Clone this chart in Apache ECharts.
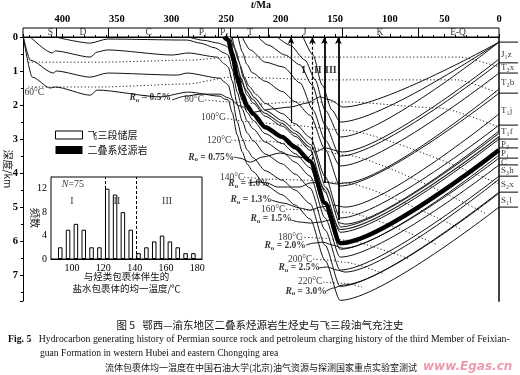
<!DOCTYPE html>
<html><head><meta charset="utf-8">
<script src="https://cdn.jsdelivr.net/npm/echarts@6/dist/echarts.min.js"></script>
<style>html,body{margin:0;padding:0;background:#fff}#c{width:520px;height:375px}</style>
</head><body><div id="c"></div>
<script>
// ================= DATA =================
// geological periods (top band), ages in Ma
const periodNames   = ['S','D','C','P₁','P₂','T','J','K','E-Q'];
const periodCenters = [411, 381, 321, 271, 251.7, 228, 178, 109, 37.5];
const periodBounds  = [405.5, 358, 284.7, 257, 246, 211, 143.7, 74];

// burial lines [age Ma, depth km]
const sourceRock = [[251.7,0],[248,0.09],[244.4,0.5],[239.8,1.18],[235.2,1.68],[230.7,2.03],[225.2,2.26],[214.2,2.65],[198.6,2.94],[186.7,3.24],[173,3.65],[159.3,4.88],[145.5,6.06],[0,3.32]];
const reservoir  = [[247.1,0],[244,0.3],[239.8,0.7],[235.2,1.2],[230.7,1.55],[225.2,1.8],[214.2,2.2],[198.6,2.5],[186.7,2.8],[173,3.2],[159.3,4.45],[145.5,5.62],[0,2.88]];
const hS1lBase = [[435.7,0],[427.5,1.18],[411,1.5],[406.4,1.47],[374.4,1.71],[368,1.56],[310.3,1.76],[284.7,1.62],[255.4,1.74],[251.7,1.82],[248,1.85],[244.4,2.22],[239.8,2.88],[235.2,3.38],[230.7,3.73],[225.2,3.96],[214.2,4.35],[198.6,4.64],[186.7,4.94],[173,5.35],[159.3,6.57],[145.5,7.74],[0,5.0]];
const hS1lTop  = [[435.7,0],[429.3,0.68],[408.2,1.06],[405.5,1.0],[374.4,1.18],[358.8,1.06],[294.7,1.12],[285.6,1.06],[255.4,1.21],[251.7,1.32],[248,1.41],[244.4,1.8],[239.8,2.48],[235.2,2.98],[230.7,3.32],[225.2,3.55],[214.2,3.93],[198.6,4.21],[186.7,4.5],[173,4.9],[159.3,6.12],[145.5,7.33],[0,4.56]];
const hS2xTop  = [[429.3,0],[409.2,0.47],[406.4,0.41],[374.4,0.59],[368,0.44],[358.8,0.38],[299.3,0.53],[284.7,0.47],[258.1,0.59],[251.7,0.79],[248,0.88],[244.4,1.29],[239.8,1.97],[235.2,2.47],[230.7,2.82],[225.2,3.05],[214.2,3.44],[198.6,3.73],[186.7,4.03],[173,4.44],[159.3,5.67],[145.5,6.85],[0,4.09]];
const hS3hTop  = [[406.4,0],[374.4,0.18],[358.8,0.06],[285.6,0.09],[273.7,0.18],[260,0.32],[251.7,0.47],[248,0.53],[244.4,0.94],[239.8,1.62],[235.2,2.12],[230.7,2.47],[225.2,2.70],[214.2,3.09],[198.6,3.38],[186.7,3.68],[173,4.09],[159.3,5.32],[145.5,6.47],[0,3.76]];
const hCTop    = [[284.7,0],[270,0.1],[257,0.18],[251.7,0.24],[248,0.3],[244.4,0.7],[239.8,1.37],[235.2,1.87],[230.7,2.22],[225.2,2.45],[214.2,2.84],[198.6,3.13],[186.7,3.43],[173,3.84],[159.3,5.07],[145.5,6.24],[0,3.56]];
const hP2Top   = [[249.9,0],[246,0.2],[242,0.6],[239.8,0.85],[235.2,1.36],[230.7,1.71],[225.2,1.94],[214.2,2.33],[198.6,2.62],[186.7,2.92],[173,3.33],[159.3,4.56],[145.5,5.74],[0,3.0]];
const hT1fTop  = [[244.4,0],[241,0.4],[237,0.85],[233,1.2],[229,1.45],[222,1.7],[214.2,1.95],[198.6,2.25],[186.7,2.55],[173,2.95],[159.3,4.1],[145.5,5.32],[0,2.59]];
const hT1jTop  = [[238.9,0],[235,0.45],[231,0.8],[226,1.05],[214.2,1.3],[198.6,1.6],[186.7,1.9],[173,2.3],[159.3,3.3],[145.5,4.38],[0,1.65]];
const hT2bTop  = [[235.2,0],[227.9,0.38],[214.2,0.74],[197.7,0.88],[182.2,1.35],[170.3,2.15],[159.3,3.03],[145.5,3.79],[0,1.06]];
const hT3xTop  = [[220.6,0],[211.4,0.24],[195.9,0.53],[182.2,0.82],[171.2,1.41],[159.3,2.59],[145.5,3.5],[0,0.76]];
const hJ1zTop  = [[203.2,0],[191.3,0.24],[177.6,0.68],[168.4,1.26],[159.3,2.15],[145.5,2.94],[0,0.15]];
const hJ2      = [[179.4,0],[170.3,0.53],[162,1.41],[152.9,2.15],[145.5,2.5],[0,0.15]];

// vitrinite reflectance (Ro) lines
const ro05  = [[299.3,1.85],[287.4,1.74],[273.7,1.68],[255.4,1.68],[248,1.79],[237.1,2.03],[225.2,2.21],[209.6,2.12],[191.3,2.06],[175.7,1.94],[163.8,1.76],[154.7,1.85],[142.8,2.06],[0,0.15]];
const ro075 = [[242.6,3.53],[237.1,3.56],[227.9,3.68],[216.9,3.53],[200.5,3.41],[184,3.53],[175.7,3.56],[168.4,3.38],[159.3,3.26],[143.7,3.38],[0,0.65]];
const ro10  = [[229.7,4.29],[221.5,4.26],[212.4,4.29],[203.2,4.41],[191.3,4.41],[182.2,4.41],[173,4.29],[161.1,4.26],[148.3,4.32],[141,4.29],[0,1.53]];
const ro13  = [[208.7,4.79],[197.7,4.88],[182.2,5.03],[173,5.09],[163.8,5.0],[151.9,4.94],[141,5.0],[0,2.26]];
const ro15  = [[190.4,5.38],[182.2,5.44],[173,5.47],[163.8,5.44],[154.7,5.38],[141,5.5],[0,2.76]];
const ro20  = [[176.7,6.12],[170.3,6.06],[161.1,6.03],[151.9,6.12],[142.8,6.21],[0,3.47]];
const ro25  = [[164.8,6.79],[157.4,6.76],[148.3,6.85],[141,6.91],[0,4.18]];
const ro30  = [[158.4,7.47],[151.9,7.38],[142.8,7.29],[0,4.59]];
const roLabelText = ['0.5%','0.75%','1.0%','1.3%','1.5%','2.0%','2.5%','3.0%'];
const roLabelPos  = [[319.5,1.79],[263.6,3.53],[229,4.32],[227,4.79],[208.7,5.35],[195.9,6.12],[183,6.79],[176.7,7.47]];

// isotherms
const t40  = [[431.1,0.74],[365.2,0.74],[282.8,0.68],[246.2,0.59],[35.7,0.59],[0,0.88]];
const t60  = [[431.1,1.47],[365.2,1.47],[284.7,1.38],[246.2,1.18],[154.7,1.26],[38.4,1.26],[0,1.65]];
const t80  = [[269.1,1.85],[246.2,1.91],[218.8,1.97],[188.6,1.91],[139.1,1.91],[54,2.09],[0,2.65]];
const t100 = [[251.7,2.38],[227.9,2.5],[191.3,2.59],[141,2.74],[0,4.32]];
const t120 = [[245.3,3.03],[214.2,3.06],[182.2,3.18],[141,3.47],[11,5.21]];
const t140 = [[233.4,4.12],[209.6,4.18],[174.8,4.21],[141,4.29],[34.8,5.65]];
const t160 = [[195,5.06],[168.4,5.09],[141,5.15],[57.7,6.09]];
const t180 = [[181.2,5.88],[163.8,5.91],[141,5.97],[81.5,6.53]];
const t200 = [[170.3,6.53],[154.7,6.56],[141,6.62],[104.3,6.97]];
const t220 = [[161.1,7.21],[141,7.24],[125.4,7.35]];
const tempLabelText = ['60°C','80°C','100°C','120°C','140°C','160°C','180°C','200°C','220°C'];
const tempLabelPos  = [[425.6,1.62],[279.2,1.85],[261.8,2.38],[256.3,3.03],[244.4,4.12],[206.9,5.06],[191.3,5.88],[182.2,6.53],[173,7.2]];

// charging arrows: [age, start depth]
const chargeArrows = [[190.5,2.53],[170.9,3.9],[159.9,4.29],[147.1,5.38]];
const chargeNames = ['I','II','III'];
const chargeNamePos = [[179,0.97],[166,0.97],[154,0.97]];

// present-day formations (right side)
const formationNames  = ['J₁z','T₃x','T₂b','T₁j','T₁f','P₂','P₁','C','S₃h','S₂x','S₁l'];
const formationDepths = [0.53,0.91,1.35,2.15,2.79,3.15,3.44,3.68,3.94,4.35,4.82];
const formationBounds = [0.15,0.76,1.06,1.65,2.59,3.0,3.26,3.56,3.76,4.09,4.56,5.0];

// inset histogram of homogenization temperatures
const binCenters = [92.5,97.5,102.5,107.5,112.5,117.5,122.5,127.5,132.5,137.5,142.5,147.5,152.5,157.5,162.5,167.5,172.5,177.5];
const binCounts  = [2,5,6,5,2,2,12,11,8,5,1,2,3,4,3,2,1,1];
const stageBounds = [121,141];
const stageNames = ['I','II','III'];
const stagePos = [[100,9.8],[128.7,9.8],[160.7,9.8]];

// ================= CHART =================
const SERIF = "'Liberation Serif','Noto Sans CJK SC',serif";
const CJK = "'Noto Sans CJK SC','Liberation Serif',sans-serif";
const chart = echarts.init(document.getElementById('c'), null, {renderer:'canvas'});

function burial(name, data, w, color){
  return {type:'line', name, xAxisIndex:0, yAxisIndex:0, data, showSymbol:false, symbol:'none',
    smooth:0.25, smoothMonotone:'x', lineStyle:{color:color||'#111', width:w||1}, z:3, silent:true};
}
function iso(data){
  return {type:'line', xAxisIndex:0, yAxisIndex:0, data, showSymbol:false, symbol:'none',
    smooth:0.2, smoothMonotone:'x', lineStyle:{color:'#222', width:1, type:[1.2,2.3]}, z:2, silent:true};
}
const roRich = {
  r:{fontFamily:SERIF, fontSize:9.5, fontWeight:'bold', fontStyle:'italic', color:'#000'},
  o:{fontFamily:SERIF, fontSize:7, fontWeight:'bold', color:'#000', padding:[5,0,0,0]},
  t:{fontFamily:SERIF, fontSize:9.5, fontWeight:'bold', color:'#000'}
};

const series = [
  burial('S1l base', hS1lBase), burial('S1l top', hS1lTop), burial('S2x top', hS2xTop),
  burial('S3h top', hS3hTop), burial('C top', hCTop), burial('P2 top', hP2Top),
  burial('T1f top', hT1fTop), burial('T1j top', hT1jTop), burial('T2b top', hT2bTop),
  burial('T3x top', hT3xTop), burial('J1z top', hJ1zTop), burial('J2', hJ2),
  burial('ro05', ro05), burial('ro075', ro075), burial('ro10', ro10), burial('ro13', ro13),
  burial('ro15', ro15), burial('ro20', ro20), burial('ro25', ro25), burial('ro30', ro30),
  iso(t40), iso(t60), iso(t80), iso(t100), iso(t120), iso(t140), iso(t160), iso(t180), iso(t200), iso(t220),
  {type:'line', name:'二叠系烃源岩', xAxisIndex:0, yAxisIndex:0, data:sourceRock, showSymbol:false, symbol:'none',
    smooth:0.25, smoothMonotone:'x', lineStyle:{color:'#000', width:4.5}, itemStyle:{color:'#000'}, z:5},
  {type:'line', name:'reservoirEdge', xAxisIndex:0, yAxisIndex:0, data:reservoir, showSymbol:false, symbol:'none',
    smooth:0.25, smoothMonotone:'x', lineStyle:{color:'#222', width:3.6}, z:4},
  {type:'line', name:'飞三段储层', xAxisIndex:0, yAxisIndex:0, data:reservoir, showSymbol:false, symbol:'none',
    smooth:0.25, smoothMonotone:'x', lineStyle:{color:'#fff', width:1.6}, itemStyle:{color:'#fff', borderColor:'#000', borderWidth:1}, z:4.5},
  // charging arrows
  {type:'line', xAxisIndex:0, yAxisIndex:0, data:[], silent:true,
    markLine:{silent:true, symbol:['none','arrow'], symbolSize:[5,7], label:{show:false},
      data:chargeArrows.map((a,i)=>[
        {coord:[a[0],a[1]], lineStyle:{color:'#000', width:(i>=2?1.8:1.2), type:(i===1?[3,2]:'solid')}},
        {coord:[a[0],0]}])}},
  // labels in main plot
  {type:'scatter', xAxisIndex:0, yAxisIndex:0, symbolSize:0, silent:true, clip:false, z:10,
    data: roLabelPos.map((p,i)=>({value:p, label:{show:true, position:'inside',
      formatter:'{r|R}{o|o}{t| = '+roLabelText[i]+'}', rich:roRich}}))},
  {type:'scatter', xAxisIndex:0, yAxisIndex:0, symbolSize:0, silent:true, clip:false, z:10,
    label:{show:true, position:'inside', fontFamily:SERIF, fontSize:9.5, color:'#000', formatter:p=>tempLabelText[p.dataIndex]},
    data: tempLabelPos},
  {type:'scatter', xAxisIndex:0, yAxisIndex:0, symbolSize:0, silent:true, clip:false, z:10,
    label:{show:true, position:'inside', fontFamily:SERIF, fontSize:10, fontWeight:'bold', color:'#000', formatter:p=>chargeNames[p.dataIndex]},
    data: chargeNamePos},
  // right side formation labels + separators
  {type:'scatter', xAxisIndex:0, yAxisIndex:0, symbolSize:0, silent:true, clip:false, z:10,
    label:{show:true, position:'right', distance:2, fontFamily:SERIF, fontSize:9, color:'#000', formatter:p=>formationNames[p.dataIndex]},
    data: formationDepths.map(d=>[0,d])},
  {type:'custom', xAxisIndex:0, yAxisIndex:0, silent:true, clip:false, z:10,
    data: formationBounds.map(d=>[0,d]),
    renderItem:(params, api)=>{const pt=api.coord([0,api.value(1)]);
      return {type:'line', shape:{x1:pt[0], y1:pt[1], x2:pt[0]+19, y2:pt[1]}, style:{stroke:'#000', lineWidth:1}};}},
  // period band
  {type:'line', xAxisIndex:1, yAxisIndex:2, data:[], silent:true,
    markLine:{silent:true, symbol:'none', label:{show:false}, lineStyle:{color:'#000', width:1, type:'solid'},
      data: periodBounds.map(v=>({xAxis:v}))}},
  {type:'scatter', xAxisIndex:1, yAxisIndex:2, symbolSize:0, silent:true, clip:false,
    label:{show:true, position:'inside', fontFamily:SERIF, fontSize:9.5, color:'#000', formatter:p=>periodNames[p.dataIndex]},
    data: periodCenters.map(c=>[c,0.5])},
  // inset histogram
  {type:'bar', xAxisIndex:2, yAxisIndex:3, barWidth:4.5, data: binCenters.map((c,i)=>[c,binCounts[i]]),
    itemStyle:{color:'#fff', borderColor:'#000', borderWidth:1}, silent:true,
    markLine:{silent:true, symbol:'none', label:{show:false}, lineStyle:{color:'#000', width:1, type:[3,2]},
      data: stageBounds.map(v=>({xAxis:v}))}},
  {type:'scatter', xAxisIndex:2, yAxisIndex:3, symbolSize:0, silent:true,
    label:{show:true, position:'inside', fontFamily:SERIF, fontSize:10, color:'#000', formatter:p=>stageNames[p.dataIndex]},
    data: stagePos},
  {type:'scatter', xAxisIndex:2, yAxisIndex:3, symbolSize:0, silent:true,
    label:{show:true, position:'inside', fontFamily:SERIF, fontSize:10, color:'#000', formatter:'{i|N}=75', rich:{i:{fontFamily:SERIF,fontSize:10,fontStyle:'italic'}}},
    data: [[100.6,12.7]]}
];

const option = {
  backgroundColor:'#fff',
  animation:false,
  textStyle:{fontFamily:SERIF},
  title:[
    {text:'图 5   鄂西—渝东地区二叠系烃源岩生烃史与飞三段油气充注史', left:'center', top:315,
      textStyle:{fontFamily:CJK, fontSize:10.5, fontWeight:'normal', color:'#111'}},
    {text:'{b|Fig. 5}   Hydrocarbon generating history of Permian source rock and petroleum charging history of the third Member of Feixian-', left:3, top:330,
      textStyle:{fontFamily:SERIF, fontSize:9.8, fontWeight:'normal', color:'#111', rich:{b:{fontFamily:SERIF,fontSize:9.8,fontWeight:'bold',color:'#111'}}}},
    {text:'guan Formation in western Hubei and eastern Chongqing area', left:35, top:344,
      textStyle:{fontFamily:SERIF, fontSize:9.6, fontWeight:'normal', color:'#111'}},
    {text:'流体包裹体均一温度在中国石油大学(北京)油气资源与探测国家重点实验室测试', left:100, top:358,
      textStyle:{fontFamily:CJK, fontSize:9, fontWeight:'normal', color:'#111'}},
    {text:'www.Egas.cn', left:418, top:356,
      textStyle:{fontFamily:"'DejaVu Sans'", fontSize:12, fontWeight:'bold', fontStyle:'italic', color:'#ef9aac'}}
  ],
  legend:{left:50, top:125, orient:'vertical', itemWidth:27, itemHeight:8, itemGap:5, selectedMode:false,
    textStyle:{fontFamily:CJK, fontSize:10, color:'#111'},
    data:[
      {name:'飞三段储层', icon:'rect', itemStyle:{color:'#fff', borderColor:'#000', borderWidth:1}},
      {name:'二叠系烃源岩', icon:'rect', itemStyle:{color:'#000'}}
    ]},
  grid:[
    {left:23, right:21, top:37, bottom:74, outerBoundsMode:'none', containLabel:false},
    {left:23, right:21, top:28, height:9, show:true, borderColor:'#000', borderWidth:1, backgroundColor:'#fff', outerBoundsMode:'none', containLabel:false},
    {left:51, top:177, width:151, height:82, show:true, borderColor:'#000', borderWidth:1, backgroundColor:'#fff', z:1, outerBoundsMode:'none', containLabel:false}
  ],
  xAxis:[
    {gridIndex:0, type:'value', min:0, max:436, inverse:true, show:false},
    {gridIndex:1, type:'value', min:0, max:436, inverse:true, position:'top', interval:50,
      axisLine:{show:true, lineStyle:{color:'#000'}},
      axisTick:{show:true, inside:false, length:3, lineStyle:{color:'#000'}},
      minorTick:{show:true, splitNumber:5, length:2, lineStyle:{color:'#000'}},
      splitLine:{show:false},
      axisLabel:{margin:3, fontFamily:SERIF, fontSize:10.5, fontWeight:'bold', color:'#000',
        formatter:v=> (Math.abs(v%50)<1e-6 ? String(v) : '')},
      name:'{i|t}/Ma', nameLocation:'middle', nameGap:18, nameMoveOverlap:false,
      nameTextStyle:{fontFamily:SERIF, fontSize:10, fontWeight:'bold', color:'#000',
        rich:{i:{fontFamily:SERIF, fontSize:10, fontStyle:'italic', fontWeight:'bold', color:'#000'}}}},
    {gridIndex:2, type:'value', min:86.6, max:183,
      axisLine:{show:true, lineStyle:{color:'#000'}},
      axisTick:{show:true, inside:true, length:3, customValues:[90,100,110,120,130,140,150,160,170,180], lineStyle:{color:'#000'}},
      axisLabel:{margin:4, fontFamily:SERIF, fontSize:10, color:'#000', customValues:[100,120,140,160,180]},
      splitLine:{show:false},
      name:'与烃类包裹体伴生的\n盐水包裹体的均一温度/℃', nameLocation:'middle', nameGap:11, nameMoveOverlap:false,
      nameTextStyle:{fontFamily:CJK, fontSize:9.5, color:'#111', lineHeight:12, verticalAlign:'top'}}
  ],
  yAxis:[
    {gridIndex:0, type:'value', min:0, max:7.76, inverse:true, interval:1,
      axisLine:{show:true, onZero:false, lineStyle:{color:'#000'}},
      axisTick:{show:true, inside:false, length:3, lineStyle:{color:'#000'}},
      minorTick:{show:true, splitNumber:2, length:2, lineStyle:{color:'#000'}},
      splitLine:{show:false},
      axisLabel:{margin:5, fontFamily:SERIF, fontSize:10.5, fontWeight:'bold', color:'#000',
        formatter:v=> (Math.abs(v-Math.round(v))<1e-6 ? String(v) : '')},
      name:'深度/km', nameLocation:'middle', nameRotate:-90, nameGap:10, nameMoveOverlap:false,
      nameTextStyle:{fontFamily:CJK, fontSize:10, color:'#111'}},
    {gridIndex:0, type:'value', min:0, max:7.76, inverse:true, position:'right',
      axisLine:{show:true, onZero:false, lineStyle:{color:'#444', width:2}},
      axisTick:{show:false}, axisLabel:{show:false}, splitLine:{show:false}},
    {gridIndex:1, type:'value', min:0, max:1, show:false},
    {gridIndex:2, type:'value', min:0, max:14, interval:4,
      axisLine:{show:true, lineStyle:{color:'#000'}},
      axisTick:{show:true, inside:true, length:3, lineStyle:{color:'#000'}},
      minorTick:{show:true, splitNumber:2, length:2, lineStyle:{color:'#000'}},
      splitLine:{show:false},
      axisLabel:{margin:4, fontFamily:SERIF, fontSize:10, color:'#000',
        formatter:v=> (v%4===0 ? String(v) : '')},
      name:'频数', nameLocation:'middle', nameRotate:-90, nameGap:11, nameMoveOverlap:false,
      nameTextStyle:{fontFamily:CJK, fontSize:10, color:'#111'}}
  ],
  series
};
chart.setOption(option);
</script></body></html>
